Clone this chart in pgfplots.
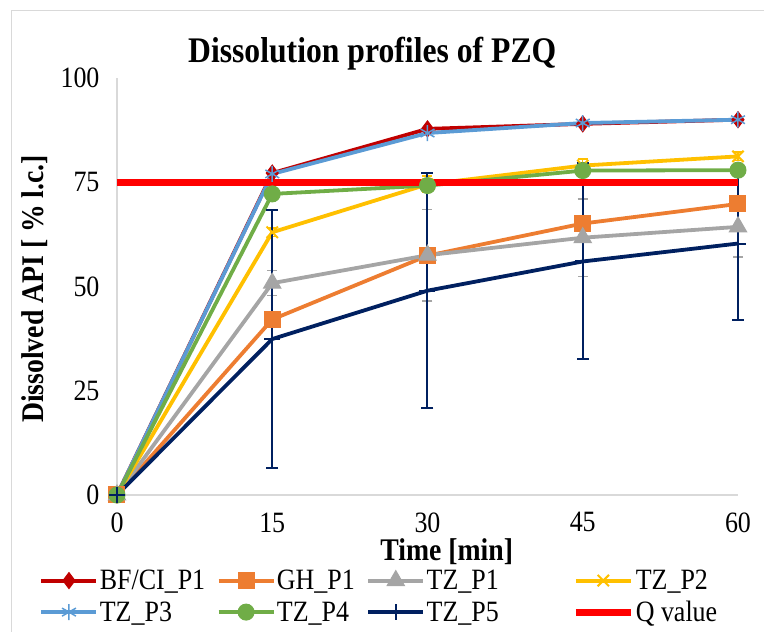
\documentclass[border=0pt]{standalone}
\usepackage{fontspec}
\setmainfont{Liberation Serif}[FakeStretch=0.88]
\usepackage{pgfplots}
\pgfplotsset{compat=1.18}
\definecolor{cBF}{HTML}{C00000}
\definecolor{cGH}{HTML}{ED7D31}
\definecolor{cP1}{HTML}{A5A5A5}
\definecolor{cP2}{HTML}{FFC000}
\definecolor{cP3}{HTML}{5B9BD5}
\definecolor{cP4}{HTML}{70AD47}
\definecolor{cP5}{HTML}{002060}
\definecolor{cQ}{HTML}{FF0000}
\definecolor{axgray}{HTML}{D9D9D9}
\begin{document}
\begin{tikzpicture}
\useasboundingbox (0,0) rectangle (764pt,632pt);
\draw[axgray, line width=1pt] (11pt,0pt) -- (11pt,621pt) -- (764pt,621pt);
\begin{axis}[
  at={(117pt,137pt)}, anchor=south west,
  scale only axis, width=621pt, height=417pt,
  xmin=0, xmax=60, ymin=0, ymax=100,
  axis x line*=bottom, axis y line*=left,
  axis line style={axgray, line width=1.2pt},
  xtick={0,15,30,45,60}, ytick={0,25,50,75,100},
  major tick length=0pt,
  tick label style={font=\fontsize{29.5}{33}\selectfont, black},
  /pgf/number format/assume math mode=true,
  xticklabel style={yshift=-14pt},
  yticklabel style={xshift=-14pt},
  clip=false,
  title={Dissolution profiles of PZQ},
  title style={font=\fontsize{36}{40}\selectfont\bfseries, at={(axis description cs:0.411,1.023)}, anchor=base},
  xlabel={Time [min]},
  xlabel style={font=\fontsize{31.5}{35}\selectfont\bfseries, at={(axis description cs:0.531,-0.136)}, anchor=center},
  ylabel={Dissolved API [ \% l.c.]},
  ylabel style={font=\fontsize{31.5}{35}\selectfont\bfseries, at={(axis description cs:-0.132,0.494)}, anchor=center, rotate=0},
  legend columns=4,
  legend cell align=left,
  legend style={draw=none, fill=none, font=\fontsize{29.5}{33}\selectfont,
    at={(axis description cs:-0.125,-0.176)}, anchor=north west,
    row sep=7pt, inner sep=0pt,
    nodes={inner sep=1.5pt},
    /tikz/column 2/.style={column sep=10pt},
    /tikz/column 4/.style={column sep=10pt},
    /tikz/column 6/.style={column sep=72pt}},
  legend image code/.code={\draw[mark repeat=2, mark phase=2] plot coordinates {(0pt,0pt)(27.5pt,0pt)(55pt,0pt)};},
  every axis plot/.append style={line width=3.8pt},
]
\addplot[cBF, mark=diamond*, mark size=8pt, mark options={solid, line width=1pt}] coordinates {(0,0)(15,77.2)(30,87.8)(45,89.0)(60,90.0)};
\addlegendentry{BF/CI\_P1}
\addplot[cGH, mark=square*, mark size=8pt, mark options={line width=1pt}] coordinates {(0,0)(15,42.1)(30,57.4)(45,65.1)(60,69.8)};
\addlegendentry{GH\_P1}
\addplot[cP1, mark=triangle*, mark size=10pt, mark options={line width=1pt},
  error bars/.cd, y dir=both, y explicit,
  error bar style={line width=1.5pt, cP1},
  error mark options={rotate=90, mark size=5pt, line width=1.5pt, cP1}]
  coordinates {(0,0) +- (0,0) (15,50.8) +- (0,3) (30,57.5) +- (0,11) (45,61.7) +- (0,9.3) (60,64.3) +- (0,7.2)};
\addlegendentry{TZ\_P1}
\addplot[cP2, mark=x, mark size=8pt, mark options={line width=2pt},
  error bars/.cd, y dir=both, y explicit,
  error bar style={line width=1.5pt, cP2},
  error mark options={rotate=90, mark size=5pt, line width=1.5pt, cP2}]
  coordinates {(0,0) +- (0,0) (15,63.0) +- (0,1) (30,74.5) +- (0,2) (45,79.0) +- (0,1.6) (60,81.2) +- (0,1)};
\addlegendentry{TZ\_P2}
\addplot[cP3, mark=asterisk, mark size=8pt, mark options={line width=1.5pt}] coordinates {(0,0)(15,77.0)(30,86.8)(45,89.2)(60,90.0)};
\addlegendentry{TZ\_P3}
\addplot[cP4, mark=*, mark size=8pt, mark options={line width=1pt}] coordinates {(0,0)(15,72.2)(30,74.2)(45,77.8)(60,77.9)};
\addlegendentry{TZ\_P4}
\addplot[cP5, mark=+, mark size=8pt, mark options={line width=2pt},
  error bars/.cd, y dir=both, y explicit,
  error bar style={line width=2pt, cP5},
  error mark options={rotate=90, mark size=6pt, line width=2pt, cP5}]
  coordinates {(0,0) +- (0,0) (15,37.4) +- (0,31) (30,49.0) +- (0,28.1) (45,56.0) +- (0,23.5) (60,60.3) +- (0,18.4)};
\addlegendentry{TZ\_P5}
\addplot[cQ, line width=7pt, mark=none] coordinates {(0,75)(60,75)};
\addlegendentry{Q value}
\end{axis}
\end{tikzpicture}
\end{document}
